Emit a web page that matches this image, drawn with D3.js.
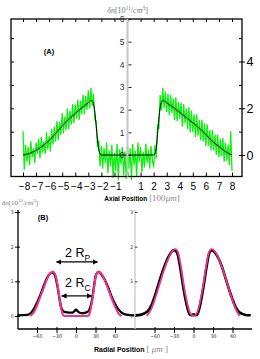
<!DOCTYPE html>
<html>
<head>
<meta charset="utf-8">
<script src="https://cdn.jsdelivr.net/npm/d3@7"></script>
<style>
body { margin: 0; background: #fff; }
svg { display: block; }
</style>
</head>
<body>
<div class="main"></div>
<script>
// ---- panel A: axial profile ----
var axialTicks = [-8, -7, -6, -5, -4, -3, -2, -1, 0, 1, 2, 3, 4, 5, 6, 7, 8];
var centerTicks = [0, 1, 2, 3, 4, 5, 6];
var sideTicks = [0, 1, 2, 3, 4, 5];
var sideLabels = [0, 2, 4];

// measured signal, sampled every 0.1 (x 100um) from -8 to 8
var noisyStart = -8, noisyStep = 0.1;
var noisyValues = [
  1.05, -0.65, 0.45, -0.3, 0.35, -0.45, 0.6, -0.1, 0.3, -0.35,
  0.55, 0.05, 0.7, -0.15, 0.8, 0.1, 0.6, 0.05, 1.0, 0.25,
  0.85, 0.15, 1.15, 0.45, 1.25, 0.6, 1.5, 0.65, 1.45, 0.9,
  1.85, 0.95, 1.7, 1.1, 2.05, 1.15, 1.95, 1.35, 2.25, 1.4,
  2.2, 1.6, 2.45, 1.55, 2.4, 1.8, 2.65, 1.8, 2.6, 2.0,
  2.85, 2.05, 2.95, 2.15, 2.7, 1.55, 1.5, 0.35, 0.65, -0.5,
  0.4,
  -0.6, 0.3, -0.35, 0.55, -0.8, 0.2, -0.5, 0.45, -1.0, 0.1,
  -0.7, 0.5, -1.1, 0.25, -0.4, 0.35, -0.9, 0.15, -1.05, 0.4,
  -0.6, 0.3, -1.1, 0.5, -0.45, 0.2, -0.95, 0.55, -0.3, 0.35,
  -0.75, 0.15, -0.55, 0.5, -0.35, 0.25, -0.6, 0.4, -0.2,
  -0.55, 0.45, -0.15, 1.35, 1.15, 2.65, 1.95, 2.95, 2.05, 2.8,
  1.9, 2.7, 1.75, 2.65, 1.85, 2.5, 1.55, 2.55, 1.5, 2.35,
  1.6, 2.3, 1.25, 2.25, 1.4, 2.05, 1.15, 2.1, 1.0, 1.95,
  1.0, 1.8, 0.8, 1.8, 0.85, 1.55, 0.65, 1.55, 0.6, 1.4,
  0.4, 1.35, 0.4, 1.1, 0.2, 1.1, 0.2, 0.9, 0.0, 0.9,
  -0.1, 0.7, -0.05, 0.75, -0.3, 0.55, -0.25, 0.45, -0.45, 1.05,
  -0.7
];

// model fit
var fitX = [-8, -7.5, -7, -6.5, -6, -5.5, -5, -4.5, -4, -3.5, -3, -2.8, -2.7, -2.6, -2.5, -2.4, -2.3, -2.2, -2.1, -2,
            2, 2.1, 2.2, 2.3, 2.4, 2.5, 2.6, 2.7, 2.8, 3, 3.5, 4, 4.5, 5, 5.5, 6, 6.5, 7, 7.5, 8];
var fitY = [0, 0.07, 0.2, 0.4, 0.65, 0.95, 1.28, 1.58, 1.83, 2.08, 2.3, 2.4, 2.38, 2.25, 1.9, 1.3, 0.7, 0.25, 0.05, 0,
            0, 0.05, 0.3, 0.9, 1.6, 2.1, 2.33, 2.4, 2.38, 2.3, 2.1, 1.88, 1.65, 1.42, 1.18, 0.9, 0.6, 0.38, 0.15, 0];

// ---- panel B: radial profiles ----
var radialTicks = [-60, -30, 0, 30, 60];
var densityTicks = [0, 1, 2, 3];

var leftSimX = [-70, -65, -60, -55, -50, -45, -40, -36, -32, -28, -25, -22, -20, -17, 0, 17, 20, 22, 25, 28, 31, 35, 39, 45, 50, 55, 60, 65, 70];
var leftSimY = [0, 0.1, 0.3, 0.55, 0.8, 1.05, 1.22, 1.28, 1.2, 0.85, 0.45, 0.15, 0.03, 0, 0, 0, 0.03, 0.15, 0.45, 0.85, 1.2, 1.28, 1.22, 1.0, 0.75, 0.5, 0.27, 0.08, 0];
var leftExpX = [-90, -75, -70, -65, -60, -55, -50, -45, -40, -36, -32, -28, -25, -22, -18, -10, -5, -2, 0, 2, 5, 10, 18, 22, 25, 28, 31, 35, 39, 45, 50, 55, 60, 65, 70, 75, 80, 90];
var leftExpY = [0.02, 0.03, 0.08, 0.2, 0.38, 0.6, 0.85, 1.08, 1.22, 1.25, 1.15, 0.8, 0.45, 0.2, 0.12, 0.1, 0.1, 0.15, 0.18, 0.15, 0.1, 0.08, 0.12, 0.25, 0.5, 0.9, 1.2, 1.27, 1.2, 1.02, 0.8, 0.55, 0.35, 0.2, 0.1, 0.05, 0.03, 0.02];

var rightSimX = [-72, -65, -60, -55, -50, -45, -40, -35, -30, -28, -24, -20, -15, -10, -6, -3, 0, 3, 6, 10, 15, 20, 24, 28, 30, 35, 40, 45, 50, 55, 60, 65, 71];
var rightSimY = [0, 0.2, 0.45, 0.75, 1.05, 1.35, 1.6, 1.8, 1.92, 1.93, 1.85, 1.5, 0.9, 0.4, 0.12, 0.03, 0, 0.03, 0.12, 0.4, 0.9, 1.5, 1.85, 1.93, 1.92, 1.8, 1.6, 1.35, 1.05, 0.75, 0.45, 0.2, 0];
var rightExpX = [-90, -80, -75, -70, -65, -60, -55, -50, -45, -40, -35, -30, -27, -24, -20, -15, -10, -6, -3, 0, 3, 6, 10, 15, 20, 24, 28, 32, 36, 40, 45, 50, 55, 60, 65, 70, 75, 80, 88];
var rightExpY = [0.02, 0.04, 0.08, 0.15, 0.3, 0.55, 0.85, 1.15, 1.42, 1.65, 1.82, 1.9, 1.88, 1.75, 1.35, 0.75, 0.28, 0.05, 0.02, 0.05, 0.02, 0.05, 0.3, 0.8, 1.4, 1.8, 1.9, 1.85, 1.75, 1.6, 1.35, 1.05, 0.75, 0.48, 0.25, 0.12, 0.06, 0.03, 0.02];

// annotation arrows (radial position, density level)
var rpArrow = [-30, 33, 1.56];
var rcArrow = [-22, 24, 0.58];

var W = 260, H = 359;
var sans = "'Liberation Sans', Arial, sans-serif";
var serif = "'Liberation Serif', 'DejaVu Serif', serif";
var narrow = "'Liberation Sans Narrow', 'DejaVu Sans Condensed', sans-serif";
var intFmt = d3.format("d");

var svg = d3.select(".main")
	.append("svg")
	.attr("width", W)
	.attr("height", H);

var defs = svg.append("defs");
defs.append("marker")
	.attr("id", "head")
	.attr("viewBox", "0 0 10 10")
	.attr("refX", 9).attr("refY", 5)
	.attr("markerWidth", 4.5).attr("markerHeight", 4.5)
	.attr("orient", "auto-start-reverse")
	.append("path")
	.attr("d", "M0,0 L10,5 L0,10 z")
	.attr("fill", "#000");

//---------------- panel A ----------------
var frameA = {left: 11, right: 242, top: 19, bottom: 176.5};
var xA = d3.scaleLinear().domain([-8, 8]).range([23, 232]);
var yA = d3.scaleLinear().domain([0, 6]).range([155, 19]);
var ySide = d3.scaleLinear().domain([0, 4]).range([155, 61.5]);

var gA = svg.append("g").attr("class", "panelA");

// noisy measurement
var noisy = noisyValues.map(function(v, i) { return [noisyStart + i * noisyStep, v]; });
gA.append("path")
	.datum(noisy)
	.attr("d", d3.line().x(function(d) { return xA(d[0]); }).y(function(d) { return yA(d[1]); }))
	.attr("fill", "none")
	.attr("stroke", "#11ee11")
	.attr("stroke-width", 1.3);

// fit
gA.append("path")
	.datum(fitX.map(function(x, i) { return [x, fitY[i]]; }))
	.attr("d", d3.line().curve(d3.curveMonotoneX).x(function(d) { return xA(d[0]); }).y(function(d) { return yA(d[1]); }))
	.attr("fill", "none")
	.attr("stroke", "#000")
	.attr("stroke-width", 1);

// frame
gA.append("rect")
	.attr("x", frameA.left).attr("y", frameA.top)
	.attr("width", frameA.right - frameA.left)
	.attr("height", frameA.bottom - frameA.top)
	.attr("fill", "none")
	.attr("stroke", "#000")
	.attr("stroke-width", 1.3);

// bottom axis with labels
var xAxisA = gA.append("g")
	.attr("transform", "translate(0," + frameA.bottom + ")")
	.call(d3.axisBottom(xA).tickValues(axialTicks).tickSize(-4).tickPadding(6.5)
		.tickFormat(function(d) { return d == 0 ? "" : intFmt(d); }));
xAxisA.select(".domain").remove();
xAxisA.selectAll("text")
	.attr("font-family", sans).attr("font-size", 10).attr("fill", "#000")
	.attr("dx", function(d) { return d < 0 ? 1 : 0; });

// top ticks
var topAxisA = gA.append("g")
	.attr("transform", "translate(0," + frameA.top + ")")
	.call(d3.axisTop(xA).tickValues(axialTicks).tickSize(-3).tickFormat(""));
topAxisA.select(".domain").remove();

// left border ticks
var leftAxisA = gA.append("g")
	.attr("transform", "translate(" + frameA.left + ",0)")
	.call(d3.axisLeft(ySide).tickValues(sideTicks).tickSize(-3).tickFormat(""));
leftAxisA.select(".domain").remove();

// right border ticks + labels
var rightInA = gA.append("g")
	.attr("transform", "translate(" + frameA.right + ",0)")
	.call(d3.axisRight(ySide).tickValues(sideTicks).tickSize(-3).tickFormat(""));
rightInA.select(".domain").remove();
var rightOutA = gA.append("g")
	.attr("transform", "translate(" + frameA.right + ",0)")
	.call(d3.axisRight(ySide).tickValues(sideLabels).tickSize(3).tickPadding(1.5).tickFormat(intFmt));
rightOutA.select(".domain").remove();
rightOutA.selectAll("text").attr("font-family", sans).attr("font-size", 12.5).attr("fill", "#000");

// central gray axis
gA.append("line")
	.attr("x1", xA(0)).attr("x2", xA(0))
	.attr("y1", frameA.top).attr("y2", frameA.bottom)
	.attr("stroke", "#c4c4c4")
	.attr("stroke-width", 2);
var centerAxis = gA.append("g")
	.attr("transform", "translate(" + (xA(0) + 1) + ",0)")
	.call(d3.axisLeft(yA).tickValues(centerTicks).tickSize(-3).tickPadding(4).tickFormat(intFmt));
centerAxis.select(".domain").remove();
centerAxis.selectAll("line").attr("stroke", "#222");
centerAxis.selectAll("text").attr("font-family", sans).attr("font-size", 8.5).attr("fill", "#333");

// titles
var titleA = gA.append("text")
	.attr("x", xA(0)).attr("y", 12.5)
	.attr("text-anchor", "middle")
	.attr("font-family", serif).attr("font-size", 8).attr("fill", "#777");
titleA.append("tspan").attr("font-style", "italic").text("δn");
titleA.append("tspan").text("[10");
titleA.append("tspan").attr("font-size", 5.5).attr("dy", -3).text("11");
titleA.append("tspan").attr("dy", 3).text("/");
titleA.append("tspan").attr("font-style", "italic").text("cm");
titleA.append("tspan").attr("font-size", 5.5).attr("dy", -3).text("3");
titleA.append("tspan").attr("dy", 3).text("]");

gA.append("text")
	.attr("x", 49).attr("y", 54)
	.attr("text-anchor", "middle")
	.attr("font-family", sans).attr("font-weight", "bold").attr("font-size", 7.5)
	.text("(A)");

var xLabelA = gA.append("text")
	.attr("x", 142).attr("y", 201)
	.attr("text-anchor", "middle")
	.attr("font-family", sans).attr("font-size", 6.5);
xLabelA.append("tspan").attr("font-weight", "bold").text("Axial Position ");
xLabelA.append("tspan").attr("font-family", serif).attr("font-size", 9).attr("fill", "#888").text(" [100");
xLabelA.append("tspan").attr("font-family", serif).attr("font-size", 9).attr("fill", "#888").attr("font-style", "italic").text("μm");
xLabelA.append("tspan").attr("font-family", serif).attr("font-size", 9).attr("fill", "#888").text("]");

//---------------- panel B ----------------
var yB = d3.scaleLinear().domain([0, 3]).range([316, 212]);
var xBL = d3.scaleLinear().domain([-90, 90]).range([17.5, 134.5]);
var xBR = d3.scaleLinear().domain([-90, 90]).range([135, 252]);
var baseB = 329;

var gB = svg.append("g").attr("class", "panelB");

function drawProfile(xs, xv, yv, color, width) {
	gB.append("path")
		.datum(xv.map(function(x, i) { return [x, yv[i]]; }))
		.attr("d", d3.line().curve(d3.curveMonotoneX).x(function(d) { return xs(d[0]); }).y(function(d) { return yB(d[1]); }))
		.attr("fill", "none")
		.attr("stroke", color)
		.attr("stroke-width", width)
		.attr("stroke-linejoin", "round");
}

drawProfile(xBL, leftExpX, leftExpY, "#000", 2.3);
drawProfile(xBL, leftSimX, leftSimY, "#f0338f", 2.1);
drawProfile(xBR, rightExpX, rightExpY, "#000", 2.6);
drawProfile(xBR, rightSimX, rightSimY, "#f0338f", 1.8);

// base line
gB.append("line")
	.attr("x1", 18).attr("x2", 252)
	.attr("y1", baseB).attr("y2", baseB)
	.attr("stroke", "#000").attr("stroke-width", 1.3);

// left panel y axis
gB.append("line")
	.attr("x1", 18).attr("x2", 18)
	.attr("y1", 210).attr("y2", baseB)
	.attr("stroke", "#000").attr("stroke-width", 1.3);
var yAxisBL = gB.append("g")
	.attr("transform", "translate(18,0)")
	.call(d3.axisLeft(yB).tickValues(densityTicks).tickSize(3).tickPadding(1.5).tickFormat(intFmt));
yAxisBL.select(".domain").remove();
yAxisBL.selectAll("line").attr("x2", -3).attr("x1", 2);
yAxisBL.selectAll("text").attr("font-family", narrow).attr("font-size", 5).attr("fill", "#333");

// right panel y axis (gray)
gB.append("line")
	.attr("x1", 135).attr("x2", 135)
	.attr("y1", 210).attr("y2", baseB)
	.attr("stroke", "#c8c8c8").attr("stroke-width", 1.3);
var yAxisBR = gB.append("g")
	.attr("transform", "translate(135,0)")
	.call(d3.axisLeft(yB).tickValues(densityTicks).tickSize(-2.5).tickPadding(2).tickFormat(intFmt));
yAxisBR.select(".domain").remove();
yAxisBR.selectAll("line").attr("stroke", "#444");
yAxisBR.selectAll("text").attr("font-family", narrow).attr("font-size", 5).attr("fill", "#333");

// x axes
[xBL, xBR].forEach(function(xs) {
	var ax = gB.append("g")
		.attr("transform", "translate(0," + baseB + ")")
		.call(d3.axisBottom(xs).tickValues(radialTicks).tickSize(4).tickPadding(1.5).tickFormat(intFmt));
	ax.select(".domain").remove();
	ax.selectAll("line").attr("y1", -2);
	ax.selectAll("text").attr("font-family", narrow).attr("font-size", 5).attr("fill", "#222");
});

// arrows
[rpArrow, rcArrow].forEach(function(a) {
	gB.append("line")
		.attr("x1", xBL(a[0])).attr("x2", xBL(a[1]))
		.attr("y1", yB(a[2])).attr("y2", yB(a[2]))
		.attr("stroke", "#000").attr("stroke-width", 1.2)
		.attr("marker-start", "url(#head)")
		.attr("marker-end", "url(#head)");
});

function radiusLabel(y, sub) {
	var t = gB.append("text")
		.attr("x", 65).attr("y", y)
		.attr("font-family", sans).attr("font-size", 12.5).attr("fill", "#000");
	t.append("tspan").text("2 R");
	t.append("tspan").attr("font-size", 8.5).attr("dy", 3.5).text(sub);
}
radiusLabel(257, "P");
radiusLabel(287, "C");

gB.append("text")
	.attr("x", 43).attr("y", 220)
	.attr("text-anchor", "middle")
	.attr("font-family", sans).attr("font-weight", "bold").attr("font-size", 7.5)
	.text("(B)");

var titleB = gB.append("text")
	.attr("x", 2).attr("y", 204.5)
	.attr("font-family", serif).attr("font-size", 7).attr("fill", "#777");
titleB.append("tspan").attr("font-style", "italic").text("δn");
titleB.append("tspan").text("[10");
titleB.append("tspan").attr("font-size", 5).attr("dy", -2.5).text("12");
titleB.append("tspan").attr("dy", 2.5).text("/");
titleB.append("tspan").attr("font-style", "italic").text("cm");
titleB.append("tspan").attr("font-size", 5).attr("dy", -2.5).text("3");
titleB.append("tspan").attr("dy", 2.5).text("]");

var xLabelB = gB.append("text")
	.attr("x", 131).attr("y", 352)
	.attr("text-anchor", "middle")
	.attr("font-family", sans).attr("font-size", 7);
xLabelB.append("tspan").attr("font-weight", "bold").text("Radial Position ");
xLabelB.append("tspan").attr("font-family", serif).attr("font-size", 9).attr("fill", "#888").text(" [ ");
xLabelB.append("tspan").attr("font-family", serif).attr("font-size", 9).attr("fill", "#888").attr("font-style", "italic").text("μm");
xLabelB.append("tspan").attr("font-family", serif).attr("font-size", 9).attr("fill", "#888").text(" ]");
</script>
</body>
</html>
